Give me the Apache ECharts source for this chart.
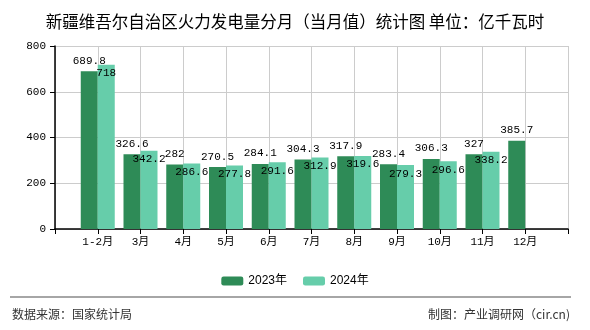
<!DOCTYPE html>
<html>
<head>
<meta charset="utf-8">
<script src="https://cdn.jsdelivr.net/npm/echarts@6/dist/echarts.min.js"></script>
<style>html,body{margin:0;padding:0;background:#fff}#c{width:590px;height:330px}</style>
</head>
<body>
<div id="c"></div>
<script>
var categories = ['1-2月','3月','4月','5月','6月','7月','8月','9月','10月','11月','12月'];
var s2023 = [689.8,326.6,282,270.5,284.1,304.3,317.9,283.4,306.3,327,385.7];
var s2024 = [718,342.2,286.6,277.8,291.6,312.9,319.6,279.3,296.6,338.2,null];
var yTicks = [0,200,400,600,800];
var seriesNames = ['2023年','2024年'];

var numFont = "'Liberation Mono', 'Noto Sans CJK SC', monospace";
var axisData = [''].concat(categories, ['']);
function pad(a){ return [null].concat(a, [null]); }

var chart = echarts.init(document.getElementById('c'), null, {renderer:'canvas'});
chart.setOption({
  animation: false,
  backgroundColor: '#fff',
  title: {
    text: '新疆维吾尔自治区火力发电量分月（当月值）统计图 单位：亿千瓦时',
    left: 'center', top: 8,
    textStyle: {fontFamily: "'Noto Sans CJK SC'", fontSize: 16.5, fontWeight: 'normal', color: '#000'}
  },
  legend: {
    data: seriesNames,
    left: 'center', top: 270,
    itemWidth: 22, itemHeight: 9, itemGap: 16,
    textStyle: {fontFamily: "'Liberation Sans', 'Noto Sans CJK SC'", fontSize: 12, color: '#000'}
  },
  grid: {left: 55, right: 22, top: 46, bottom: 101, containLabel: false},
  xAxis: {
    type: 'category',
    data: axisData,
    boundaryGap: false,
    axisLine: {lineStyle: {color: '#000', width: 1.5}},
    axisTick: {show: true, length: 5, lineStyle: {color: '#000'}},
    axisLabel: {fontFamily: numFont, fontSize: 11, color: '#000', margin: 8, interval: 0},
    splitLine: {show: true, lineStyle: {color: '#cccccc'}}
  },
  yAxis: {
    type: 'value',
    min: yTicks[0], max: yTicks[yTicks.length-1], interval: 200,
    axisLine: {show: true, lineStyle: {color: '#000', width: 1.5}},
    axisTick: {show: true, length: 5, lineStyle: {color: '#000'}},
    axisLabel: {fontFamily: numFont, fontSize: 11, color: '#000', margin: 9},
    splitLine: {show: true, lineStyle: {color: '#cccccc'}}
  },
  series: [
    {
      name: seriesNames[0], type: 'bar', data: pad(s2023),
      barWidth: 17, barGap: '0%',
      itemStyle: {color: '#2E8B57'},
      label: {show: true, position: 'top', distance: 5, color: '#000', fontFamily: numFont, fontSize: 11}
    },
    {
      name: seriesNames[1], type: 'bar', data: pad(s2024),
      barWidth: 17, barGap: '0%',
      itemStyle: {color: '#66CDAA'},
      label: {show: true, position: 'insideTop', distance: 3, color: '#000', fontFamily: numFont, fontSize: 11}
    }
  ],
  graphic: [
    {type: 'line', shape: {x1: 10, y1: 297, x2: 571, y2: 297}, style: {stroke: '#888', lineWidth: 1.5}},
    {type: 'text', left: 12, top: 308, style: {text: '数据来源：国家统计局', fontFamily: "'Noto Sans CJK SC'", fontSize: 12, fill: '#333'}},
    {type: 'text', right: 20, top: 308, style: {text: '制图：产业调研网（cir.cn)', fontFamily: "'Noto Sans CJK SC'", fontSize: 12, fill: '#333'}}
  ]
});
</script>
</body>
</html>
